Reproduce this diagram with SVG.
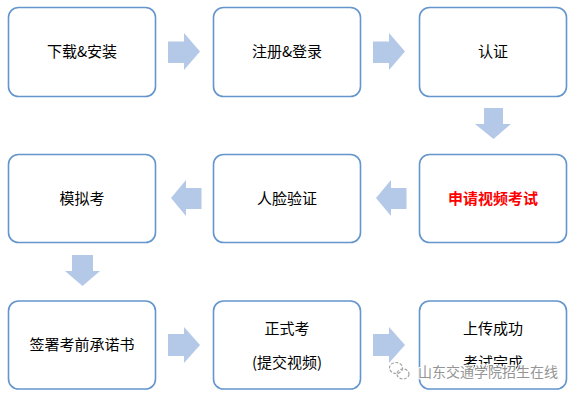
<svg xmlns="http://www.w3.org/2000/svg" width="575" height="396" viewBox="0 0 575 396">
<style>
.box{fill:#fff;stroke:#6495cd;stroke-width:1.6}
.t{font-family:"Noto Sans CJK SC","Microsoft YaHei",sans-serif;font-size:15px;fill:#000;text-anchor:middle}
.red{fill:#ff0000;font-weight:bold}
.arr{fill:#b4c8e8}
.wm{font-family:"Noto Sans CJK SC",sans-serif;font-size:14px;fill:#8a8a8a;stroke:#fff;stroke-width:2.5;paint-order:stroke;stroke-linejoin:round}
</style>
<rect width="575" height="396" fill="#fff"/>
<g id="n1"><rect class="box" x="8.5" y="7.5" width="147" height="89" rx="10"/><text class="t" x="82" y="57">下载&amp;安装</text></g>
<g id="n2"><rect class="box" x="213.5" y="7.5" width="147" height="89" rx="10"/><text class="t" x="287" y="57">注册&amp;登录</text></g>
<g id="n3"><rect class="box" x="419.5" y="7.5" width="147" height="89" rx="10"/><text class="t" x="493" y="57">认证</text></g>
<g id="n4"><rect class="box" x="419.5" y="154.5" width="147" height="88" rx="10"/><text class="t red" x="493" y="204">申请视频考试</text></g>
<g id="n5"><rect class="box" x="213.5" y="154.5" width="147" height="88" rx="10"/><text class="t" x="287" y="204">人脸验证</text></g>
<g id="n6"><rect class="box" x="8.5" y="154.5" width="147" height="88" rx="10"/><text class="t" x="82" y="204">模拟考</text></g>
<g id="n7"><rect class="box" x="8.5" y="301" width="147" height="88" rx="10"/><text class="t" x="82" y="350">签署考前承诺书</text></g>
<g id="n8"><rect class="box" x="213.5" y="301" width="147" height="88" rx="10"/><text class="t" x="287" y="334">正式考</text><text class="t" x="287" y="368">(提交视频)</text></g>
<g id="n9"><rect class="box" x="419.5" y="301" width="147" height="88" rx="10"/><text class="t" x="493" y="334">上传成功</text><text class="t" x="493" y="368">考试完成</text></g>
<g id="connectors">
<polygon class="arr" points="168,41.5 184,41.5 184,33 200,51.5 184,70 184,63 168,63"/>
<polygon class="arr" points="373,41.5 389,41.5 389,33 405,51.5 389,70 389,63 373,63"/>
<polygon class="arr" points="484,108 503,108 503,124 511,124 493.5,139 475,124 484,124"/>
<polygon class="arr" points="406.5,188 391,188 391,180 376,198 391,216 391,209 406.5,209"/>
<polygon class="arr" points="201.5,188 186,188 186,180 171,198 186,216 186,209 201.5,209"/>
<polygon class="arr" points="72,255 93,255 93,271 100,271 82.5,286 65,271 72,271"/>
<polygon class="arr" points="168,334 184,334 184,327 200,345 184,363 184,356 168,356"/>
<polygon class="arr" points="373,334 389,334 389,327 405,345 389,363 389,356 373,356"/>
</g>
<g id="watermark" opacity="0.9">
<g fill="none" stroke="#9a9a9a" stroke-width="1.2">
<ellipse cx="396" cy="368" rx="6.5" ry="5.5" stroke-dasharray="3 1.5"/>
<ellipse cx="403" cy="374" rx="6" ry="5" stroke-dasharray="3 1.5"/>
</g>
<text class="wm" x="418" y="377">山东交通学院招生在线</text>
</g>
</svg>
